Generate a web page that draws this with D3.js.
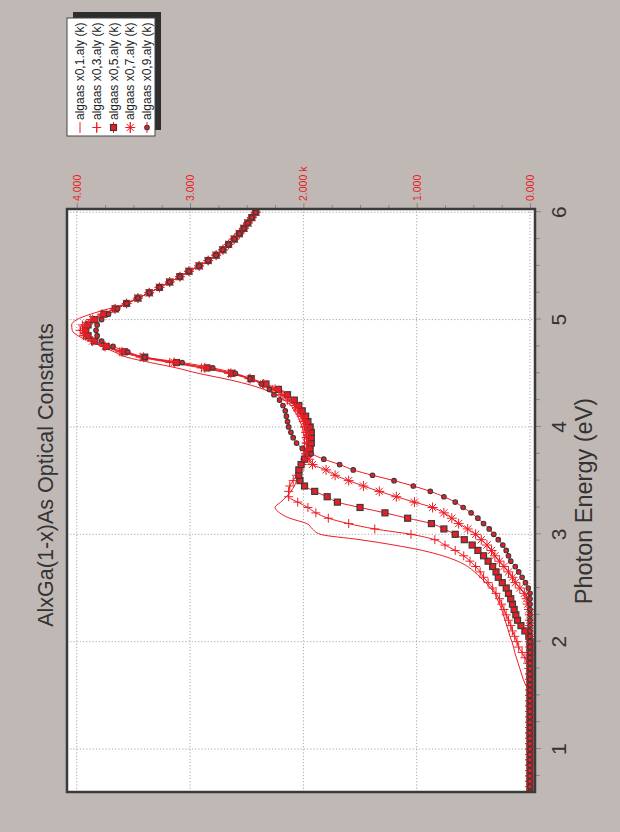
<!DOCTYPE html>
<html>
<head>
<meta charset="utf-8">
<script src="https://cdn.jsdelivr.net/npm/d3@7"></script>
<style>
  html, body { margin: 0; padding: 0; background: #c0b8b5; }
  svg { display: block; }
  text { font-family: "Liberation Sans", Arial, sans-serif; }
</style>
</head>
<body>
<svg id="chart" width="620" height="832"></svg>
<script>
// Photon energy grid (eV)
const energy = [0.60,0.65,0.70,0.75,0.80,0.85,0.90,0.95,1.00,1.05,1.10,1.15,1.20,1.25,1.30,1.35,1.40,1.45,1.50,1.55,
  1.60,1.65,1.70,1.75,1.80,1.85,1.90,1.95,2.00,2.05,2.10,2.15,2.20,2.25,2.30,2.35,2.40,2.45,2.50,2.55,
  2.60,2.65,2.70,2.75,2.80,2.85,2.90,2.95,3.00,3.05,3.10,3.15,3.20,3.25,3.30,3.35,3.40,3.45,3.50,3.55,
  3.60,3.65,3.70,3.75,3.80,3.85,3.90,3.95,4.00,4.05,4.10,4.15,4.20,4.25,4.30,4.35,4.40,4.45,4.50,4.55,
  4.60,4.65,4.70,4.75,4.80,4.85,4.90,4.95,5.00,5.05,5.10,5.15,5.20,5.25,5.30,5.35,5.40,5.45,5.50,5.55,
  5.60,5.65,5.70,5.75,5.80,5.85,5.90,5.95,6.00];

// Extinction coefficient k for each Al fraction
const kX01 = [0,0,0,0,0,0,0,0,0,0,0,0,0,0,0,0,0,0,0,
  0.015,0.04,0.06,0.075,0.09,0.105,0.12,0.135,0.145,0.16,0.177,0.19,0.205,0.22,0.235,0.25,0.27,0.29,0.31,0.35,
  0.39,0.44,0.49,0.55,0.64,0.77,0.95,1.20,1.50,1.85,1.92,1.97,2.12,2.21,2.25,2.20,2.15,2.11,2.08,2.06,
  2.04,2.03,2.02,2.01,2.00,1.99,1.99,1.99,2.00,2.01,2.03,2.05,2.08,2.11,2.17,2.24,2.35,2.50,2.70,2.93,
  3.12,3.35,3.56,3.67,3.78,3.89,3.99,4.04,4.045,4.00,3.88,3.72,
  3.56,3.46,3.36,3.27,3.18,3.09,3.01,2.92,2.84,2.77,2.71,2.66,2.61,2.565,2.525,2.49,2.455,2.42];

const kX03 = [0,0,0,0,0,0,0,0,0,0,0,0,0,0,0,0,0,0,0,0,0,0,0,
  0.01,0.02,0.045,0.07,0.10,0.115,0.135,0.155,0.17,0.19,0.21,0.23,0.25,0.27,0.30,0.33,0.37,0.41,0.44,0.48,
  0.53,0.585,0.66,0.75,0.84,1.05,1.37,1.60,1.78,1.89,1.96,2.05,2.13,2.13,2.12,2.09,2.06,2.03,2.01,1.99,
  1.98,1.97,1.97,1.97,1.98,1.99,2.00,2.02,2.05,2.08,2.14,2.20,2.27,2.36,2.48,2.66,2.90,3.18,3.44,3.62,
  3.76,3.87,3.94,3.97,3.95,3.88,3.78,3.67,
  3.56,3.46,3.36,3.27,3.18,3.09,3.01,2.92,2.84,2.77,2.71,2.66,2.61,2.565,2.525,2.49,2.455,2.42];

const kX05 = [0,0,0,0,0,0,0,0,0,0,0,0,0,0,0,0,0,0,0,0,0,0,0,0,0,0,0,0,0,
  0.01,0.045,0.08,0.11,0.125,0.14,0.155,0.17,0.19,0.21,0.245,0.28,0.30,0.33,0.37,0.41,0.46,0.51,0.58,0.66,
  0.76,0.87,1.08,1.28,1.50,1.70,1.79,1.90,1.99,2.03,2.04,2.04,2.02,1.99,1.96,1.94,1.93,1.93,1.93,1.94,
  1.96,1.98,2.01,2.04,2.08,2.14,2.22,2.33,2.46,2.63,2.85,3.12,3.40,3.58,3.74,3.84,3.90,3.92,3.90,3.84,
  3.76,3.66,
  3.56,3.46,3.36,3.27,3.18,3.09,3.01,2.92,2.84,2.77,2.71,2.66,2.61,2.565,2.525,2.49,2.455,2.42];

const kX07 = [0,0,0,0,0,0,0,0,0,0,0,0,0,0,0,0,0,0,0,0,0,0,0,0,0,0,0,0,0,0,0,0,0,0,
  0.01,0.02,0.03,0.05,0.09,0.13,0.155,0.19,0.23,0.27,0.31,0.34,0.38,0.43,0.48,0.55,0.63,0.69,0.76,0.86,
  1.02,1.18,1.33,1.47,1.60,1.72,1.80,1.92,1.95,1.97,1.97,1.97,1.97,1.97,1.98,1.99,2.01,2.04,2.07,2.12,
  2.18,2.25,2.35,2.47,2.64,2.87,3.14,3.41,3.60,3.75,3.86,3.92,3.94,3.92,3.86,3.77,3.66,
  3.56,3.46,3.36,3.27,3.18,3.09,3.01,2.92,2.84,2.77,2.71,2.66,2.61,2.565,2.525,2.49,2.455,2.42];

const kX09 = [0,0,0,0,0,0,0,0,0,0,0,0,0,0,0,0,0,0,0,0,0,0,0,0,0,0,0,0,0,0,0,0,0,0,0,0,0,0,
  0.015,0.04,0.07,0.10,0.13,0.17,0.19,0.21,0.24,0.28,0.32,0.36,0.41,0.46,0.52,0.59,0.66,0.76,0.88,1.03,
  1.20,1.39,1.56,1.68,1.82,1.93,2.01,2.06,2.09,2.11,2.13,2.14,2.15,2.16,2.18,2.21,2.26,2.30,2.37,2.47,
  2.60,2.80,3.07,3.40,3.55,3.68,3.78,3.82,3.83,3.82,3.78,3.72,3.64,
  3.56,3.46,3.36,3.27,3.18,3.09,3.01,2.92,2.84,2.77,2.71,2.66,2.61,2.565,2.525,2.49,2.455,2.42];

const seriesNames = ["algaas x0,1.aly (k)", "algaas x0,3.aly (k)", "algaas x0,5.aly (k)",
                     "algaas x0,7.aly (k)", "algaas x0,9.aly (k)"];
const seriesValues = [kX01, kX03, kX05, kX07, kX09];
const seriesMarkers = ["none", "plus", "square", "asterisk", "circle"];

const energyTicks = [1, 2, 3, 4, 5, 6];
const kTicks = [0, 1, 2, 3, 4];
const kTickLabels = ["0.000", "1.000", "2.000 k", "3.000", "4.000"];

const titleText = "AlxGa(1-x)As Optical Constants";
const xTitle = "Photon Energy (eV)";

const RED = "#ec1c24";
const DARK = "#3b3b3b";

const svg = d3.select("#chart");
svg.append("rect").attr("width", 620).attr("height", 832).attr("fill", "#c0b8b5");

// The chart is laid out landscape (832 x 620) and turned a quarter turn.
const root = svg.append("g").attr("transform", "translate(0,832) rotate(-90)");

const plot = { left: 40, right: 623, top: 67, bottom: 535 };
const x = d3.scaleLinear().domain([0.6, 6.03]).range([plot.left, plot.right]);
const y = d3.scaleLinear().domain([-0.044, 4.086]).range([plot.bottom, plot.top]);

root.append("rect")
  .attr("x", plot.left).attr("y", plot.top)
  .attr("width", plot.right - plot.left).attr("height", plot.bottom - plot.top)
  .attr("fill", "#fff");

root.append("clipPath").attr("id", "plotclip")
  .append("rect")
  .attr("x", plot.left).attr("y", plot.top)
  .attr("width", plot.right - plot.left).attr("height", plot.bottom - plot.top);

// dotted grid
const grid = root.append("g").attr("stroke", "#a8a4a4").attr("stroke-width", 1)
  .attr("stroke-dasharray", "1.2,2");
grid.selectAll(".gx").data(energyTicks).join("line")
  .attr("x1", d => x(d)).attr("x2", d => x(d))
  .attr("y1", plot.top).attr("y2", plot.bottom);
grid.selectAll(".gy").data(kTicks).join("line")
  .attr("x1", plot.left).attr("x2", plot.right)
  .attr("y1", d => y(d)).attr("y2", d => y(d));

// energy axis
const minorE = d3.range(0.75, 6.01, 0.25).filter(v => Math.abs(v - Math.round(v)) > 1e-6);
root.append("g").attr("transform", `translate(0,${plot.bottom})`)
  .call(d3.axisBottom(x).tickValues(minorE).tickSize(5).tickFormat(""))
  .call(g => g.select(".domain").remove())
  .call(g => g.selectAll("line").attr("stroke", "#8a8585"));
root.append("g").attr("transform", `translate(0,${plot.bottom})`)
  .call(d3.axisBottom(x).tickValues(energyTicks).tickSize(6).tickFormat(""))
  .call(g => g.select(".domain").remove())
  .call(g => g.selectAll("line").attr("stroke", "#8a8585"));
root.append("g").selectAll("text").data(energyTicks).join("text")
  .attr("x", d => x(d)).attr("y", 566)
  .attr("text-anchor", "middle")
  .attr("font-size", 21).attr("fill", "#333")
  .text(d => d);

// k axis
const minorK = d3.range(0.25, 4.01, 0.25).filter(v => Math.abs(v - Math.round(v)) > 1e-6);
root.append("g").attr("transform", `translate(${plot.right},0)`)
  .call(d3.axisRight(y).tickValues(minorK).tickSize(4).tickFormat(""))
  .call(g => g.select(".domain").remove())
  .call(g => g.selectAll("line").attr("stroke", "#8a8585"));
root.append("g").attr("transform", `translate(${plot.right},0)`)
  .call(d3.axisRight(y).tickValues(kTicks).tickSize(6).tickPadding(2)
        .tickFormat((d, i) => kTickLabels[i]))
  .call(g => g.select(".domain").remove())
  .call(g => g.selectAll("line").attr("stroke", "#8a8585"))
  .call(g => g.selectAll("text")
        .attr("fill", RED).attr("font-size", 10.5)
        .attr("font-family", "'Liberation Sans', Arial, sans-serif"));

// series
const line = d3.line().x(d => x(d.e)).y(d => y(d.k)).curve(d3.curveMonotoneX);
const plotG = root.append("g").attr("clip-path", "url(#plotclip)");

function drawMarker(sel, type) {
  if (type === "plus") {
    sel.append("path").attr("d", "M-4.5,0H4.5M0,-4.5V4.5")
      .attr("stroke", RED).attr("stroke-width", 1).attr("fill", "none");
  } else if (type === "asterisk") {
    sel.append("path").attr("d", "M-5,0H5M0,-5V5M-3.6,-3.6L3.6,3.6M-3.6,3.6L3.6,-3.6")
      .attr("stroke", RED).attr("stroke-width", 1).attr("fill", "none");
  } else if (type === "square") {
    sel.append("rect").attr("x", -3).attr("y", -3).attr("width", 6).attr("height", 6)
      .attr("fill", RED).attr("stroke", DARK).attr("stroke-width", 1.2);
  } else if (type === "circle") {
    sel.append("circle").attr("r", 2.3)
      .attr("fill", RED).attr("stroke", DARK).attr("stroke-width", 1.1);
  }
}

seriesValues.forEach((vals, si) => {
  const pts = energy.map((e, i) => ({ e, k: vals[i] }));
  plotG.append("path").datum(pts)
    .attr("d", line).attr("fill", "none")
    .attr("stroke", RED).attr("stroke-width", 1);
  const type = seriesMarkers[si];
  if (type !== "none") {
    plotG.append("g").selectAll("g").data(pts).join("g")
      .attr("transform", d => `translate(${x(d.e)},${y(d.k)})`)
      .each(function () { drawMarker(d3.select(this), type); });
  }
});

// frame
root.append("rect")
  .attr("x", plot.left).attr("y", plot.top)
  .attr("width", plot.right - plot.left).attr("height", plot.bottom - plot.top)
  .attr("fill", "none").attr("stroke", DARK).attr("stroke-width", 2.5);

// titles
root.append("text").attr("x", 357).attr("y", 53)
  .attr("text-anchor", "middle").attr("font-size", 21.5).attr("fill", "#333")
  .text(titleText);
root.append("text").attr("x", 331).attr("y", 592)
  .attr("text-anchor", "middle").attr("font-size", 23.5).attr("fill", "#333")
  .text(xTitle);

// legend
const lg = root.append("g");
const lx = 696, ly = 67, lw = 118, lh = 88;
lg.append("rect").attr("x", lx + 6).attr("y", ly + 6).attr("width", lw).attr("height", lh)
  .attr("fill", "#2e2e2e");
lg.append("rect").attr("x", lx).attr("y", ly).attr("width", lw).attr("height", lh)
  .attr("fill", "#fff").attr("stroke", "#444").attr("stroke-width", 1);
seriesNames.forEach((name, i) => {
  const ry = 80 + i * 16.75;
  const row = lg.append("g");
  row.append("line").attr("x1", 699).attr("x2", 710).attr("y1", ry).attr("y2", ry)
    .attr("stroke", RED).attr("stroke-width", 1);
  const m = row.append("g").attr("transform", `translate(704.5,${ry})`);
  drawMarker(m, seriesMarkers[i]);
  row.append("text").attr("x", 712).attr("y", ry).attr("dy", "0.35em")
    .attr("font-size", 12).attr("fill", "#222").text(name);
});
</script>
</body>
</html>
